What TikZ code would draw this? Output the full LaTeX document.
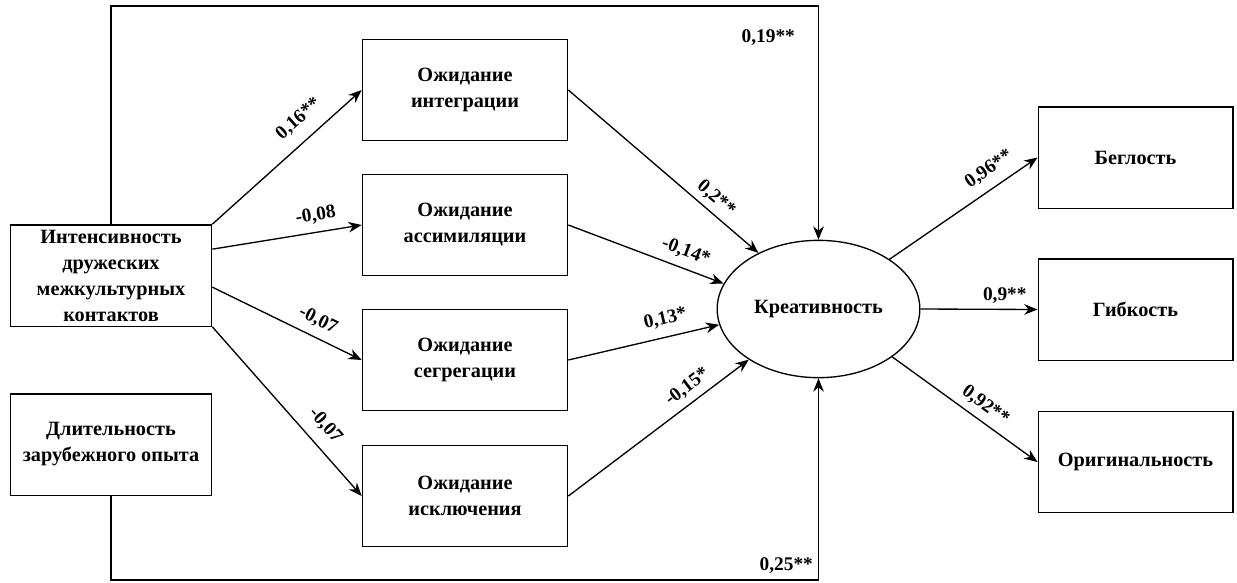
\documentclass[tikz,border=0pt]{standalone}
\usepackage{fontspec}
\setmainfont{Liberation Serif}
\usetikzlibrary{shapes.geometric,arrows.meta,calc}
\begin{document}
\begin{tikzpicture}[x=0.75pt,y=-0.75pt,>={Stealth[length=10pt,width=8pt]},
  box/.style={draw,line width=1pt,minimum width=154pt,minimum height=76pt,
    align=center,inner sep=2pt,font=\bfseries\fontsize{15.2}{19.5}\selectfont},
  lbl/.style={font=\bfseries\fontsize{14.5}{16}\selectfont,inner sep=1pt},
  arr/.style={->,line width=1pt}]
  \useasboundingbox (0,0) rectangle (1237,582);
  % predictors
  \node[box,minimum width=151pt] (int) at (111,275.5) {Интенсивность\\дружеских\\межкультурных\\контактов};
  \node[box,minimum width=151pt] (dur) at (111,444.5) {Длительность\\зарубежного опыта};
  % mediators
  \node[box] (med1) at (465,90) {Ожидание\\интеграции};
  \node[box] (med2) at (465,225) {Ожидание\\ассимиляции};
  \node[box] (med3) at (465,360) {Ожидание\\сегрегации};
  \node[box] (med4) at (465,496) {Ожидание\\исключения};
  % latent factor
  \node[draw,ellipse,line width=1pt,minimum width=152pt,minimum height=103pt,inner sep=0pt,
    font=\bfseries\fontsize{15.2}{19.5}\selectfont] (cre) at (818.5,309) {Креативность};
  % indicators
  \node[box,minimum width=146pt] (beg) at (1135.5,157.5) {Беглость};
  \node[box,minimum width=146pt] (gib) at (1135.5,309.5) {Гибкость};
  \node[box,minimum width=146pt] (ori) at (1135.5,462) {Оригинальность};
  % paths to mediators
  \draw[arr] (int.north east) -- node[lbl,pos=0.67,above=8pt,sloped] {0,16**} (med1.west);
  \draw[arr] ($(int.north east)+(0,25)$) -- node[lbl,pos=0.71,above=5pt,sloped] {-0,08} (med2.west);
  \draw[arr] ($(int.north east)+(0,63)$) -- node[lbl,pos=0.66,above=5pt,sloped] {-0,07} (med3.west);
  \draw[arr] (int.south east) -- node[lbl,pos=0.66,above=7pt,sloped] {-0,07} (med4.west);
  % paths to creativity
  \draw[arr] (med1.east) -- node[lbl,pos=0.73,above=3pt,sloped] {0,2**} (cre.137);
  \draw[arr] (med2.east) -- node[lbl,pos=0.72,above=5pt,sloped] {-0,14*} (cre.165);
  \draw[arr] (med3.east) -- node[lbl,pos=0.67,above=6pt,sloped] {0,13*} (cre.189);
  \draw[arr] (med4.east) -- node[lbl,pos=0.71,above=4pt,sloped] {-0,15*} (cre.216);
  % direct paths
  \coordinate (topc) at (818.5,6);
  \coordinate (botc) at (818.5,580);
  \draw[arr] (int.north) |- (topc) -- (cre.north);
  \draw[arr] (dur.south) |- (botc) -- (cre.south);
  \node[lbl,anchor=north east] (b19) at ($(topc)+(-22,22)$) {0,19**};
  \node[lbl,anchor=south east] (b25) at ($(botc)+(-4,-5)$) {0,25**};
  % loadings
  \draw[arr] (cre.35) -- node[lbl,pos=0.74,above=6pt,sloped] {0,96**} (beg.west);
  \draw[arr] (cre.east) -- node[lbl,pos=0.72,above=3pt] {0,9**} (gib.west);
  \draw[arr] (cre.-33) -- node[lbl,pos=0.58,above=4pt,sloped] {0,92**} (ori.west);
\end{tikzpicture}
\end{document}
